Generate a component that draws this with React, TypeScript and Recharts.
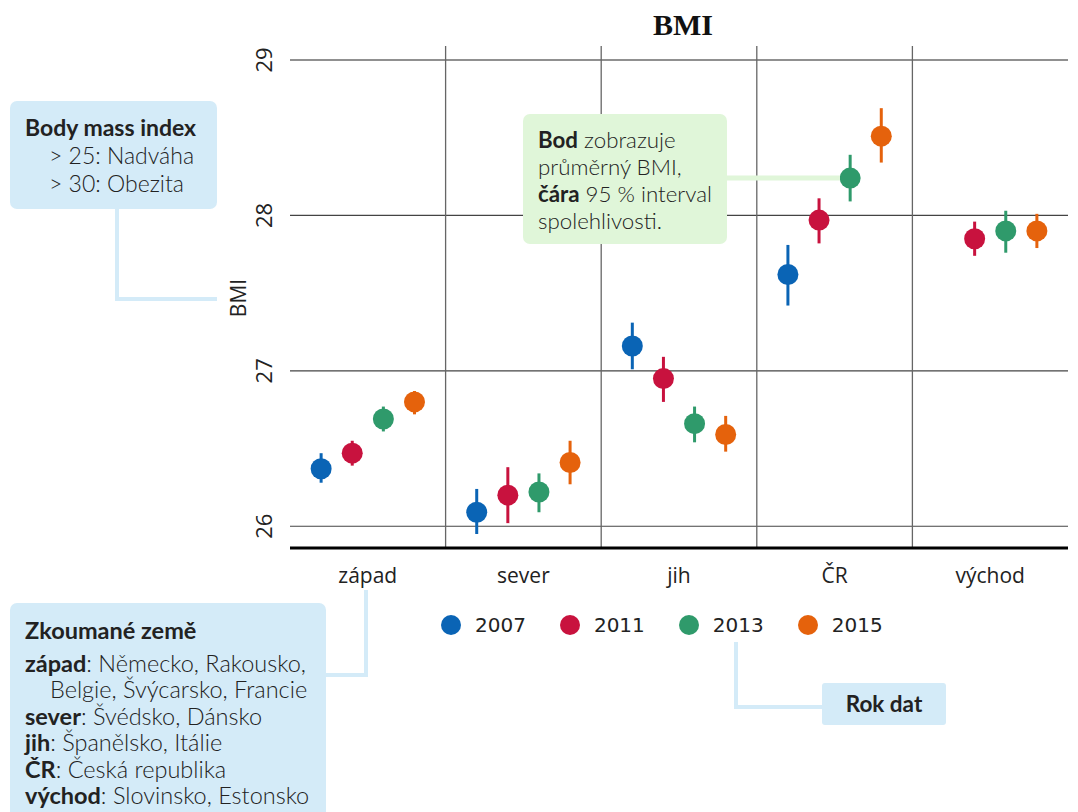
import React from "react";
import { ComposedChart, Scatter, ErrorBar, XAxis, YAxis, ReferenceLine } from "recharts";

const categories = ["západ", "sever", "jih", "ČR", "východ"];
const years = ["2007", "2011", "2013", "2015"];
const colors = ["#0a64b5", "#c8123e", "#2f9a6b", "#e5620c"];

// mean BMI and 95 % interval per region, one list per year (null = no data)
const mean2007 = [26.37, 26.09, 27.16, 27.62, null];
const low2007 = [26.28, 25.95, 27.01, 27.42, null];
const high2007 = [26.47, 26.24, 27.31, 27.81, null];

const mean2011 = [26.47, 26.2, 26.95, 27.97, 27.85];
const low2011 = [26.39, 26.02, 26.8, 27.82, 27.74];
const high2011 = [26.55, 26.38, 27.09, 28.11, 27.96];

const mean2013 = [26.69, 26.22, 26.66, 28.24, 27.9];
const low2013 = [26.61, 26.09, 26.54, 28.09, 27.76];
const high2013 = [26.77, 26.34, 26.77, 28.39, 28.03];

const mean2015 = [26.8, 26.41, 26.59, 28.51, 27.9];
const low2015 = [26.72, 26.27, 26.48, 28.34, 27.79];
const high2015 = [26.87, 26.55, 26.71, 28.69, 28.01];

const yTicks = [26, 27, 28, 29];

const means = [mean2007, mean2011, mean2013, mean2015];
const lows = [low2007, low2011, low2013, low2015];
const highs = [high2007, high2011, high2013, high2015];

const boundaries = categories.slice(1).map((_, i) => i + 1);
const catTicks = categories.map((_, i) => i + 0.5);

const series = years.map((year, s) =>
  categories
    .map((cat, i) => {
      const v = means[s][i];
      if (v == null) return null;
      return {
        x: i + 0.5 + (s - 1.5) * 0.2,
        y: v,
        err: [v - (lows[s][i] as number), (highs[s][i] as number) - v],
        cat,
      };
    })
    .filter(Boolean)
);

const annoFont = "Lato, 'Open Sans', sans-serif";
const blueBox = "#d4ebf8";
const greenBox = "#e0f6d9";

const XTick = (p: any) => (
  <text x={p.x} y={p.y + 35} textAnchor="middle" fontFamily="'Open Sans', sans-serif" fontSize={21} fill="#222">
    {categories[Math.floor(p.payload.value)]}
  </text>
);

const YTick = (p: any) => (
  <text
    x={p.x - 27}
    y={p.y}
    transform={`rotate(-90 ${p.x - 27} ${p.y})`}
    textAnchor="middle"
    dominantBaseline="central"
    fontFamily="'Open Sans', sans-serif"
    fontSize={22}
    fill="#222"
  >
    {p.payload.value}
  </text>
);

const box = (extra: React.CSSProperties): React.CSSProperties => ({
  position: "absolute",
  borderRadius: 7,
  fontFamily: annoFont,
  color: "#222",
  whiteSpace: "nowrap",
  boxSizing: "border-box",
  ...extra,
});

export default function App() {
  return (
    <div style={{ position: "absolute", left: 0, top: 0, width: 1078, height: 812, background: "#fff", overflow: "hidden" }}>
      <ComposedChart width={1078} height={812} margin={{ top: 46, right: 10, left: 230, bottom: 224 }}>
        <XAxis
          type="number"
          dataKey="x"
          domain={[0, 5]}
          ticks={catTicks}
          height={40}
          tickSize={0}
          tickMargin={0}
          tickLine={false}
          axisLine={false}
          tick={<XTick />}
        />
        <YAxis
          type="number"
          dataKey="y"
          domain={[25.86, 29.09]}
          ticks={yTicks}
          width={60}
          tickSize={0}
          tickMargin={0}
          tickLine={false}
          axisLine={false}
          tick={<YTick />}
        />
        {yTicks.map((t) => (
          <ReferenceLine key={"h" + t} y={t} stroke={t === 29 ? "#222" : "#444"} strokeWidth={1.2} />
        ))}
        {boundaries.map((b) => (
          <ReferenceLine key={"v" + b} x={b} stroke="#666" strokeWidth={1.3} />
        ))}
        <ReferenceLine y={25.86} stroke="#000" strokeWidth={3} />
        {years.map((year, s) => (
          <Scatter
            key={year}
            name={year}
            data={series[s] as any[]}
            fill={colors[s]}
            isAnimationActive={false}
            shape={(p: any) => <circle cx={p.cx} cy={p.cy} r={10.5} fill={colors[s]} />}
          >
            <ErrorBar dataKey="err" direction="y" width={0} stroke={colors[s]} strokeWidth={3} isAnimationActive={false} />
          </Scatter>
        ))}
      </ComposedChart>

      <svg width={1078} height={812} style={{ position: "absolute", left: 0, top: 0, pointerEvents: "none" }}>
        <text x={683} y={35} textAnchor="middle" fontFamily="'Liberation Serif', serif" fontWeight="bold" fontSize={30} fill="#111">
          BMI
        </text>
        <text
          x={238}
          y={298}
          transform="rotate(-90 238 298)"
          textAnchor="middle"
          dominantBaseline="central"
          fontFamily="'Open Sans', sans-serif"
          fontSize={21}
          fill="#222"
        >
          BMI
        </text>
        <polyline points="117,205 117,299 217,299" fill="none" stroke={blueBox} strokeWidth={4} />
        <polyline points="322,675 366,675 366,590" fill="none" stroke={blueBox} strokeWidth={4} />
        <polyline points="736,642 736,707 826,707" fill="none" stroke={blueBox} strokeWidth={4} />
        <line x1={722} y1={178} x2={840} y2={178} stroke={greenBox} strokeWidth={5} />
      </svg>

      <div style={box({ left: 10, top: 101, width: 207, height: 108, background: blueBox, padding: "12px 0 0 15px", fontSize: 23, lineHeight: "28px" })}>
        <div style={{ fontWeight: 700 }}>Body mass index</div>
        <div style={{ paddingLeft: 24, fontWeight: 300 }}>&gt; 25: Nadváha</div>
        <div style={{ paddingLeft: 24, fontWeight: 300 }}>&gt; 30: Obezita</div>
      </div>

      <div style={box({ left: 523, top: 114, width: 204, height: 130, background: greenBox, padding: "12px 0 0 15px", fontSize: 22.3, lineHeight: "27px", fontWeight: 300 })}>
        <div>
          <b style={{ fontWeight: 700 }}>Bod</b> zobrazuje
        </div>
        <div>průměrný BMI,</div>
        <div>
          <b style={{ fontWeight: 700 }}>čára</b> 95 % interval
        </div>
        <div>spolehlivosti.</div>
      </div>

      <div style={box({ left: 10, top: 603, width: 316, height: 230, background: blueBox, padding: "14px 0 0 15px", fontSize: 23.5, lineHeight: "26.5px", fontWeight: 300 })}>
        <div style={{ fontWeight: 700, marginBottom: 6 }}>Zkoumané země</div>
        <div>
          <b style={{ fontWeight: 700 }}>západ</b>: Německo, Rakousko,
        </div>
        <div style={{ paddingLeft: 25 }}>Belgie, Švýcarsko, Francie</div>
        <div>
          <b style={{ fontWeight: 700 }}>sever</b>: Švédsko, Dánsko
        </div>
        <div>
          <b style={{ fontWeight: 700 }}>jih</b>: Španělsko, Itálie
        </div>
        <div>
          <b style={{ fontWeight: 700 }}>ČR</b>: Česká republika
        </div>
        <div>
          <b style={{ fontWeight: 700 }}>východ</b>: Slovinsko, Estonsko
        </div>
      </div>

      <div style={box({ left: 822, top: 683, width: 124, height: 42, background: blueBox, borderRadius: 3, fontSize: 22.5, lineHeight: "42px", textAlign: "center", fontWeight: 700 })}>
        Rok dat
      </div>

      <div style={{ position: "absolute", left: 441, top: 613, display: "flex", alignItems: "center", gap: 34, fontFamily: "'DejaVu Sans', sans-serif", fontSize: 20, color: "#222" }}>
        {years.map((year, s) => (
          <div key={year} style={{ display: "flex", alignItems: "center", gap: 14, height: 24 }}>
            <span style={{ width: 20, height: 20, borderRadius: 10, background: colors[s], display: "inline-block" }} />
            <span>{year}</span>
          </div>
        ))}
      </div>
    </div>
  );
}
